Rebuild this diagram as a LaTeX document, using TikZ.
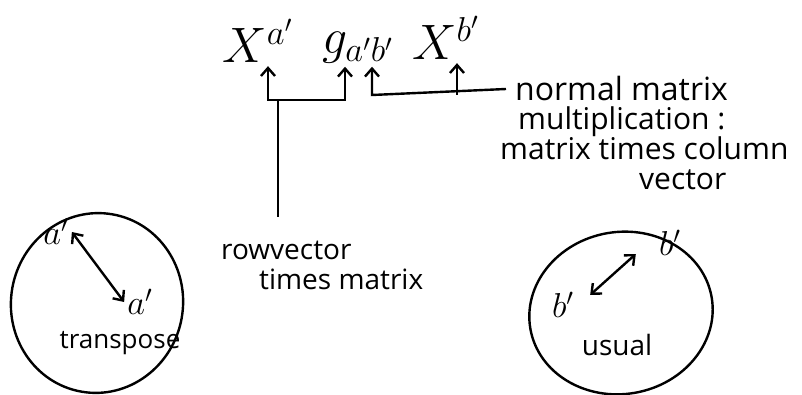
\documentclass[tikz,border=0pt]{standalone}
\usepackage{amsmath}
\usepackage{fontspec}
\setmainfont{Open Sans}
\usetikzlibrary{arrows.meta}
\begin{document}
\begin{tikzpicture}[x=0.5pt, y=-0.5pt, line width=1.2pt, >={Straight Barb[length=4pt,width=7pt]},
    lbl/.style={font=\fontsize{14}{12}\selectfont, inner sep=0pt},
    note/.style={font=\fontsize{15}{12}\selectfont, inner sep=0pt, anchor=base west},
    var/.style={font=\fontsize{18}{18}\selectfont, inner sep=1pt},
    sym/.style={font=\fontsize{24}{24}\selectfont, inner sep=1pt}]
    \useasboundingbox (0,0) rectangle (802,395);
    \node[sym] (Xa) at (258,41) {$X^{a'}$};
    \node[sym] (g) at (358,48) {$g_{a'b'}$};
    \node[sym] (Xb) at (446,38) {$X^{b'}$};
    \node[note, font=\fontsize{16}{12}\selectfont] (nm) at (514,101) {normal matrix};
    \node[note] (mul) at (517,130) {multiplication :};
    \node[note] (mtc) at (499,160) {matrix times column};
    \node[note] (vec) at (638,190) {vector};
    \node[lbl, anchor=base west] (row) at (220,259) {rowvector};
    \node[lbl, anchor=base west] (tm) at (258,289) {times matrix};
    \coordinate (ja) at (268,100);
    \coordinate (jg) at (345,100);
    \coordinate (stem) at (278,100);
    \coordinate (kb) at (372,95);
    \coordinate (kx) at (457,95);
    \draw[<->] (ja |- Xa.south) -- (ja) -- (jg) -- (jg |- g.south);
    \draw[shorten >=11pt] (stem) -- (stem |- row.north);
    \draw[->] ([xshift=-4pt]nm.west) -- (kb) -- (kb |- g.south);
    \draw[->] (kx) -- (kx |- Xb.south);
    \draw[rotate around={-10:(97,303)}] (97,303) ellipse (86 and 90);
    \node[var] (a1) at (56,232) {$a'$};
    \node[var] (a2) at (140,302) {$a'$};
    \node[lbl, font=\fontsize{13}{12}\selectfont] (tr) at (120,343) {transpose};
    \draw[<->] (a1.east) -- (a2.west);
    \draw[rotate around={10:(621,313)}] (621,313) ellipse (92 and 81);
    \node[var] (b1) at (670,243) {$b'$};
    \node[var] (b2) at (563,305) {$b'$};
    \node[lbl] (us) at (617,345) {usual};
    \draw[<->] ([shift={(-20,11)}]b1.west) -- ([shift={(13,6)}]b2.north east);
\end{tikzpicture}
\end{document}
